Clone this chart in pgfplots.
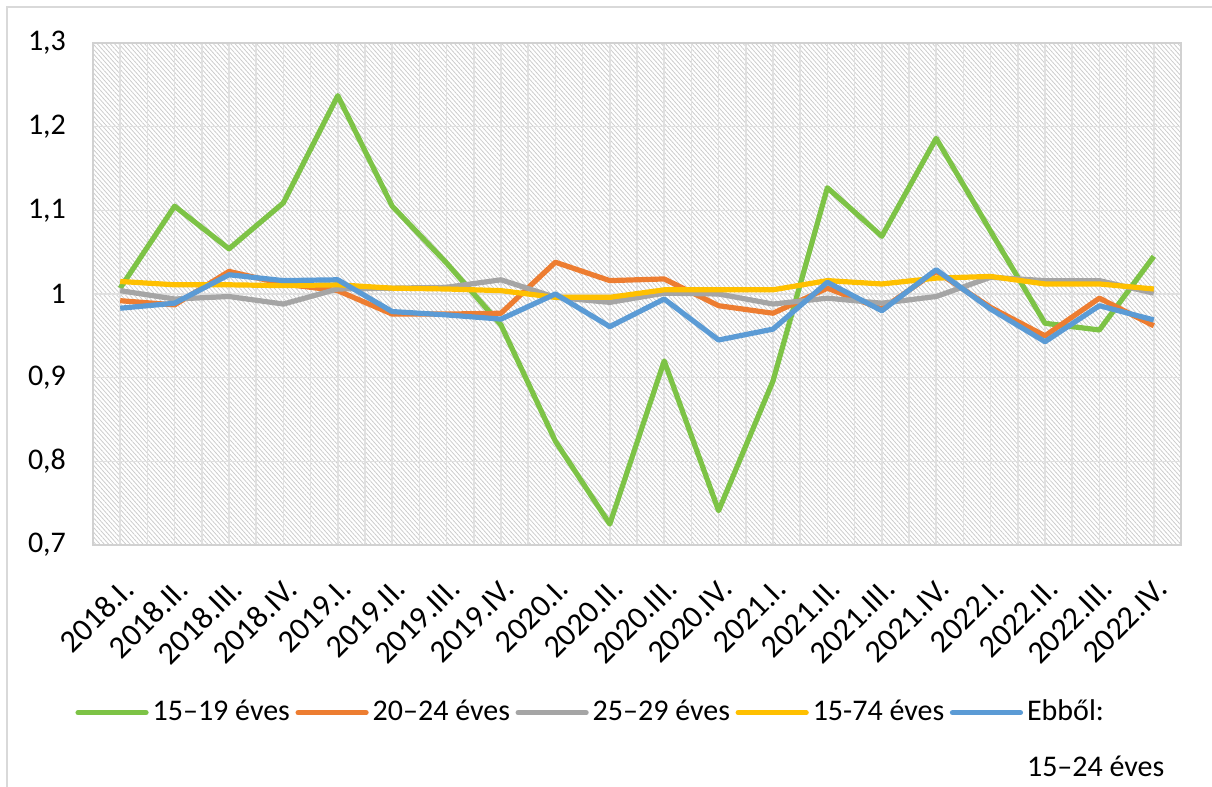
\documentclass[border=0pt]{standalone}
\usepackage{pgfplots}
\pgfplotsset{compat=1.18}
\usepackage{pgfplotstable}
\usepackage{fontspec}
\setmainfont{Carlito}
\usetikzlibrary{patterns.meta}
\definecolor{cgreen}{RGB}{125,195,70}
\definecolor{corange}{RGB}{237,125,49}
\definecolor{cgray}{RGB}{165,165,165}
\definecolor{cyellow}{RGB}{255,192,0}
\definecolor{cblue}{RGB}{91,155,213}
\newcommand\cf{\fontsize{15}{18}\selectfont}
\newcommand\cfx{\fontsize{16}{19}\selectfont}
\pgfplotstableread{
i g o gr y b
0 1.007 0.992 1.004 1.015 0.983
1 1.105 0.987 0.994 1.011 0.989
2 1.054 1.027 0.997 1.011 1.023
3 1.109 1.012 0.988 1.010 1.016
4 1.237 1.004 1.006 1.011 1.017
5 1.105 0.976 1.007 1.007 0.979
6 1.037 0.976 1.008 1.006 0.975
7 0.963 0.977 1.017 1.004 0.970
8 0.824 1.038 0.996 0.996 1.000
9 0.725 1.016 0.990 0.996 0.961
10 0.920 1.018 1.001 1.005 0.994
11 0.741 0.986 1.000 1.005 0.945
12 0.896 0.977 0.988 1.005 0.958
13 1.127 1.007 0.995 1.016 1.014
14 1.069 0.982 0.989 1.012 0.980
15 1.186 1.027 0.997 1.019 1.029
16 1.075 0.984 1.020 1.021 0.982
17 0.965 0.950 1.016 1.012 0.943
18 0.957 0.995 1.016 1.012 0.986
19 1.045 0.962 1.001 1.006 0.969
}\data
\begin{document}
\begin{tikzpicture}[x=1pt,y=1pt]
\path[use as bounding box] (0,0) rectangle (606,393.5);
\draw[line width=0.8pt, color=black!15] (3.5,0) -- (3.5,390) -- (606,390);
\begin{axis}[
  at={(46.5pt,121pt)}, anchor=south west,
  scale only axis, width=544pt, height=251pt,
  xmin=-0.5, xmax=19.5, ymin=0.7, ymax=1.3,
  xtick={0,...,19},
  minor xtick={-0.5,0.5,...,19.5},
  xticklabels={2018.I.,2018.II.,2018.III.,2018.IV.,2019.I.,2019.II.,2019.III.,2019.IV.,2020.I.,2020.II.,2020.III.,2020.IV.,2021.I.,2021.II.,2021.III.,2021.IV.,2022.I.,2022.II.,2022.III.,2022.IV.},
  ytick={0.7,0.8,0.9,1.0,1.1,1.2,1.3},
  yticklabel style={/pgf/number format/use comma,/pgf/number format/fixed,/pgf/number format/precision=1, xshift=-10pt, font=\cf},
  /pgf/number format/assume math mode=true,
  xticklabel style={font=\cfx, xshift=6.5pt, yshift=-17pt, rotate=45, anchor=east},
  major tick length=0pt, minor tick length=0pt,
  xmajorgrids, xminorgrids, ymajorgrids,
  major grid style={draw=black!12, line width=0.8pt},
  minor grid style={draw=black!12, line width=0.8pt},
  axis line style={draw=black!18, line width=0.8pt},
  axis background/.style={pattern={Lines[angle=-48,distance=1.6pt,line width=0.4pt]}, pattern color=black!20},
  every axis plot/.append style={line width=2.6pt, line join=round, no markers},
  legend columns=5,
  legend style={at={(-0.022,-0.283)}, anchor=north west, draw=none, fill=none, font=\cf,
    cells={anchor=base west, inner xsep=1.5pt}, /tikz/every even column/.append style={column sep=0.8pt}},
  legend image code/.code={\draw[#1, line cap=round, line width=2.6pt] (0pt,4pt) -- (34pt,4pt);},
]
\addplot[cgreen] table[x=i,y=g]{\data};
\addlegendentry{15–19 éves}
\addplot[corange] table[x=i,y=o]{\data};
\addlegendentry{20–24 éves}
\addplot[cgray] table[x=i,y=gr]{\data};
\addlegendentry{25–29 éves}
\addplot[cyellow] table[x=i,y=y]{\data};
\addlegendentry{15-74 éves}
\addplot[cblue] table[x=i,y=b]{\data};
\addlegendentry{\begin{tabular}[t]{@{}l@{}}Ebből:\\[10pt]15–24 éves\end{tabular}}
\end{axis}
\end{tikzpicture}
\end{document}
